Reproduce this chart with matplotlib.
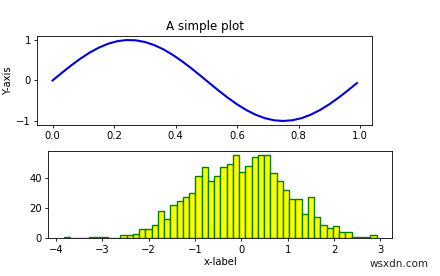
import matplotlib
matplotlib.use("Agg")
import matplotlib.pyplot as plt
import numpy as np

# --- data ---
sine_t = [0.00, 0.03, 0.06, 0.09, 0.12, 0.15, 0.18, 0.21, 0.24, 0.27,
          0.30, 0.33, 0.36, 0.39, 0.42, 0.45, 0.48, 0.51, 0.54, 0.57,
          0.60, 0.63, 0.66, 0.69, 0.72, 0.75, 0.78, 0.81, 0.84, 0.87,
          0.90, 0.93, 0.96, 0.99]
sine_y = [0.000, 0.187, 0.368, 0.536, 0.685, 0.809, 0.905, 0.969, 0.998, 0.992,
          0.951, 0.876, 0.771, 0.637, 0.482, 0.309, 0.125, -0.063, -0.249, -0.426,
          -0.588, -0.729, -0.844, -0.930, -0.982, -1.000, -0.982, -0.930, -0.844, -0.729,
          -0.588, -0.426, -0.249, -0.063]

hist_counts = [1, 0, 0, 0, 1, 1, 1, 0, 0, 2,
               2, 3, 6, 6, 9, 18, 13, 22, 25, 27,
               30, 41, 47, 38, 41, 47, 49, 55, 44, 48,
               54, 55, 55, 43, 38, 32, 26, 26, 16, 27,
               14, 9, 7, 8, 4, 4, 1, 1, 1, 2]
hist_min = -3.83
hist_max = 2.92

top_xticks = [0.0, 0.2, 0.4, 0.6, 0.8, 1.0]
top_yticks = [-1, 0, 1]
bot_xticks = [-4, -3, -2, -1, 0, 1, 2, 3]
bot_yticks = [0, 20, 40]

title = "A simple plot"
top_ylabel = "Y-axis"
bot_xlabel = "x-label"
watermark = "wsxdn.com"

# --- figure ---
fig = plt.figure(figsize=(4.4, 2.76), dpi=100)
tick_fs = 7.2
lab_fs = 7.2

ax1 = fig.add_axes([0.0848, 0.547, 0.761, 0.3225])
ax1.plot(sine_t, sine_y, color="#0000dd", linewidth=1.5)
ax1.set_xticks(top_xticks)
ax1.set_yticks(top_yticks)
ax1.set_xticklabels([f"{v:.1f}" for v in top_xticks])
ax1.set_title(title, fontsize=8.6, pad=4)
ax1.set_ylabel(top_ylabel, fontsize=lab_fs, labelpad=2)

nb = len(hist_counts)
edges = np.linspace(hist_min, hist_max, nb + 1)
centers = (edges[:-1] + edges[1:]) / 2

ax2 = fig.add_axes([0.1098, 0.1366, 0.782, 0.3163])
ax2.hist(centers, bins=edges, weights=hist_counts, facecolor="yellow",
         edgecolor="green", linewidth=1.0)
ax2.set_xticks(bot_xticks)
ax2.set_yticks(bot_yticks)
ax2.set_xlabel(bot_xlabel, fontsize=lab_fs, labelpad=2)

for ax in (ax1, ax2):
    ax.tick_params(labelsize=tick_fs, length=2.5, width=0.6, pad=2)
    for s in ax.spines.values():
        s.set_linewidth(0.6)

fig.text(0.975, 0.025, watermark, ha="right", va="bottom", fontsize=7.5, color="#222222")

fig.savefig("out.png", dpi=100)
